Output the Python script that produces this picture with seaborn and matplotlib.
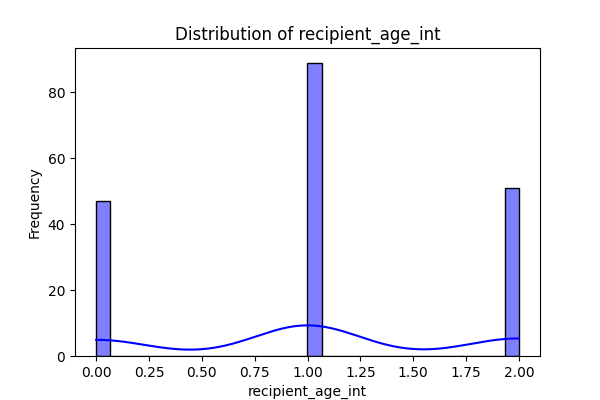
import matplotlib
matplotlib.use('Agg')
import matplotlib.pyplot as plt
import seaborn as sns
import numpy as np
import pandas as pd

# values observed in the column and how often each occurs
ages = [0, 1, 2]
counts = [47, 89, 51]

df = pd.DataFrame({'recipient_age_int': np.repeat(ages, counts)})

fig, ax = plt.subplots(figsize=(6, 4), dpi=100)
sns.histplot(df['recipient_age_int'], bins=30, kde=True, color='blue', ax=ax)
ax.set_title('Distribution of recipient_age_int')
ax.set_xlabel('recipient_age_int')
ax.set_ylabel('Frequency')

plt.tight_layout()
fig.subplots_adjust(left=0.125, right=0.9, top=0.88, bottom=0.11)
plt.savefig('out.png', dpi=100)
plt.close()
